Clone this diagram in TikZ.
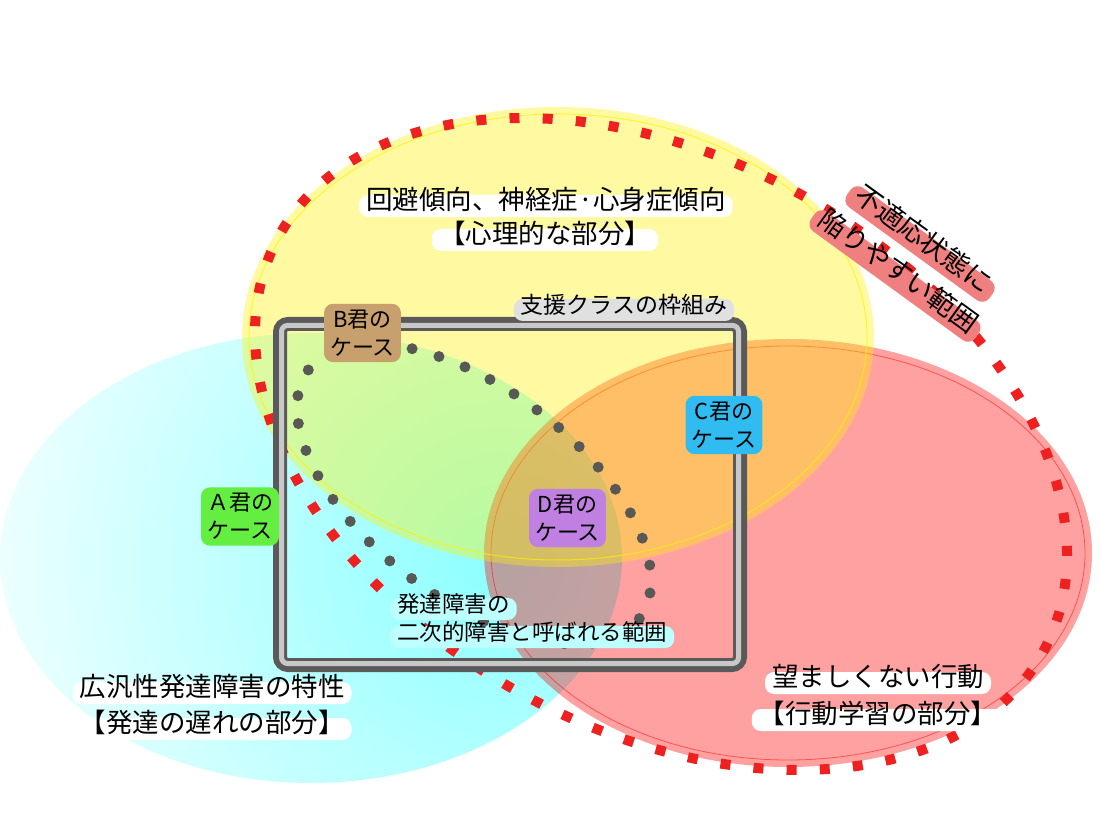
\documentclass[tikz,border=0pt]{standalone}
\usepackage{fontspec}
\setmainfont{Noto Sans CJK JP}
\usetikzlibrary{shapes.geometric}

\definecolor{riskred}{RGB}{238,32,32}
\definecolor{dotgray}{RGB}{88,88,84}
\definecolor{framedark}{RGB}{90,90,90}
\definecolor{framelight}{RGB}{200,200,200}
\definecolor{haloA}{RGB}{100,238,66}
\definecolor{haloB}{RGB}{200,160,110}
\definecolor{haloC}{RGB}{48,188,240}
\definecolor{haloD}{RGB}{192,128,226}
\definecolor{haloRisk}{RGB}{240,128,128}
\definecolor{haloFrame}{RGB}{224,224,224}
\definecolor{haloSecond}{RGB}{190,255,255}

\tikzset{
  halo/.style={fill=#1, rounded corners=9pt, inner xsep=7pt, inner ysep=6pt,
    text height=0.85em, text depth=0.15em},
  casebox/.style={fill=#1, rounded corners=9pt, inner sep=6pt, align=center,
    font=\fontsize{22pt}{28pt}\selectfont},
  bigtext/.style={font=\fontsize{26.5pt}{30pt}\selectfont},
  midtext/.style={font=\fontsize{22.5pt}{28pt}\selectfont},
}

\begin{document}
\begin{tikzpicture}[x=1pt,y=1pt]
\useasboundingbox (0,0) rectangle (1100,825);

% Set A (developmental traits)
\scope
\clip (311,267) ellipse [x radius=311pt, y radius=225pt];
\shade[inner color=cyan!45, outer color=cyan!6] (500,262) circle (520pt);
\endscope

% Set B (behaviour)
\node [ellipse,
	fill=red,
	fill opacity=0.37,
	inner sep=0pt,
	minimum width=608pt,
	minimum height=428pt] (behaviour) at (788,272){};
\draw [red, line width=0.8pt, opacity=0.5] (788,272) ellipse [x radius=297pt, y radius=207pt];

% Set C (psychological part)
\node [ellipse,
	fill=yellow,
	fill opacity=0.37,
	inner sep=0pt,
	minimum width=632pt,
	minimum height=460pt] (psyche) at (558,488){};
\draw [yellow, line width=1pt, opacity=0.7] (558,488) ellipse [x radius=309pt, y radius=223pt];

% Range prone to maladjustment
\node [ellipse,
	draw=riskred,
	line width=10pt,
	dash pattern=on 10pt off 23.2pt,
	inner sep=0pt,
	minimum width=870pt,
	minimum height=572pt,
	rotate=-28.5] (risk) at (661,381){};

% Range of secondary disorders
\node [ellipse,
	draw=dotgray,
	line width=11pt,
	line cap=round,
	dash pattern=on 0pt off 28pt,
	inner sep=0pt,
	minimum width=414pt,
	minimum height=210pt,
	rotate=-37] (secondary) at (474,331){};

% Support class frame
\node [draw=framedark, line width=14pt, rounded corners=8pt, inner sep=0pt,
	minimum width=460pt, minimum height=341pt] (frame) at (510,330.5){};
\node [draw=framelight, line width=5pt, rounded corners=6pt, inner sep=0pt,
	minimum width=457pt, minimum height=338pt] (frameinner) at (510,330.5){};

% Set labels
\node [halo=white, bigtext] (psycheA) at (546,619) {回避傾向、神経症·心身症傾向};
\node [halo=white, bigtext] (psycheB) at (545,585) {【心理的な部分】};
\node [halo=white, bigtext] (traitA) at (212,132) {広汎性発達障害の特性};
\node [halo=white, bigtext] (traitB) at (212,96) {【発達の遅れの部分】};
\node [halo=white, bigtext] (behaviourA) at (878,142) {望ましくない行動};
\node [halo=white, bigtext] (behaviourB) at (878,105) {【行動学習の部分】};

% Frame label
\node [halo=haloFrame, font=\fontsize{23pt}{28pt}\selectfont] (framelabel) at (624,515) {支援クラスの枠組み};

% Secondary disorder label
\node [halo=haloSecond, midtext, anchor=west] (secondA) at (390,216) {発達障害の};
\node [halo=haloSecond, midtext, anchor=west] (secondB) at (390,188) {二次的障害と呼ばれる範囲};

% Case labels
\node [casebox=haloA] (caseA) at (240,308.5) {Ａ君の\\ケース};
\node [casebox=haloB] (caseB) at (362.5,492) {B君の\\ケース};
\node [casebox=haloC] (caseC) at (724,400) {C君の\\ケース};
\node [casebox=haloD] (caseD) at (567.5,307) {D君の\\ケース};

% Risk label
\node [halo=haloRisk, inner ysep=7pt, rotate=-36, font=\fontsize{27pt}{32pt}\selectfont] (riskA) at (920,581) {不適応状態に};
\node [halo=haloRisk, inner ysep=7pt, rotate=-36, font=\fontsize{27pt}{32pt}\selectfont] (riskB) at (895,549) {陥りやすい範囲};

\end{tikzpicture}
\end{document}
